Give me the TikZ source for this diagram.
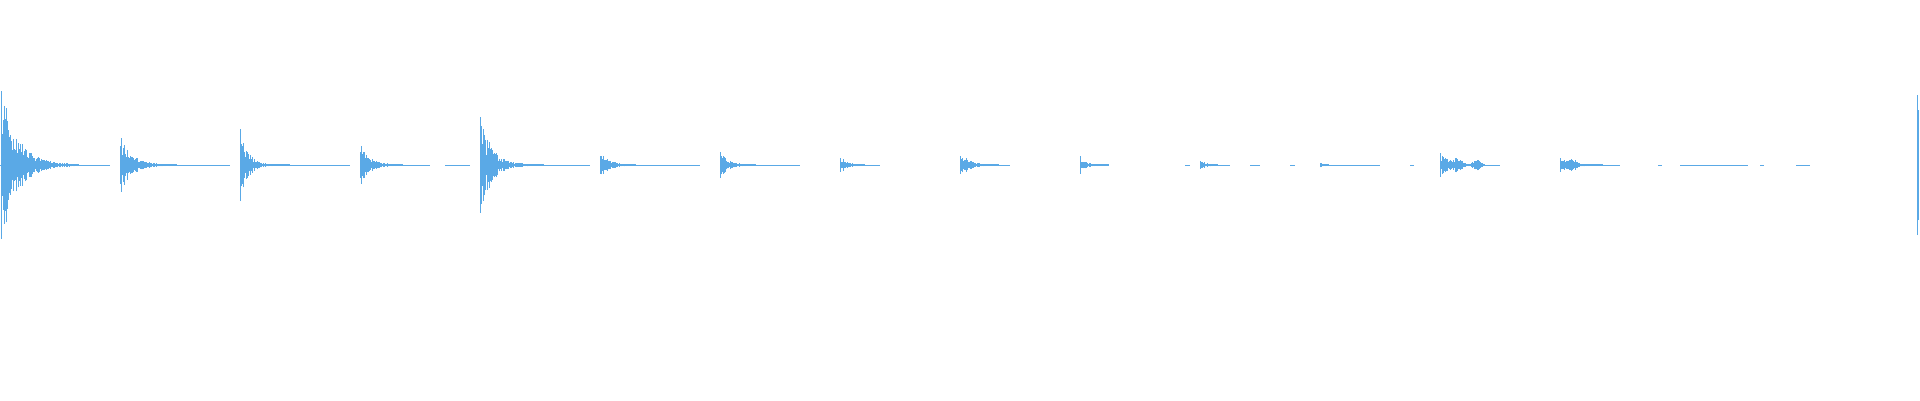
\documentclass[tikz,border=0pt]{standalone}
\definecolor{wave}{HTML}{5AA9E6}
\begin{document}
\begin{tikzpicture}[x=1pt,y=1pt,wv/.style={wave,line width=0.45pt},base/.style={wave,line width=0.4pt}]
\useasboundingbox (0,0) rectangle (1920,400);
\pgfmathsetseed{7}
% baseline segments
\foreach \a/\b in {0/110,120/230,240/350,360/430,445/470,480/590,600/700,720/800,840/880,960/1010,1080/1105,1200/1230,1320/1380,1440/1500,1560/1620,1680/1748,1800/1810}{
  \draw[base] (\a,235) -- (\b,235);}
\foreach \a/\b in {1185/1190,1250/1260,1290/1295,1410/1414,1658/1662,1760/1764,1796/1800}{
  \draw[base] (\a,235) -- (\b,235);}
% bursts: x / amplitude / decay / count
\foreach \x/\A/\t/\n in {1/80/22/110,120/30/16/80,240/40/10/70,360/23/12/60,480/55/15/90,600/18/10/50,720/15/10/50,840/8/10/35,960/15/10/55,1080/8/8/40,1200/4/8/25,1320/2/6/12,1440/12/14/60,1560/8/14/60}{
  \foreach \k in {0,...,\n}{
    \pgfmathsetmacro\h{\A*exp(-\k/\t)*(0.3+0.7*rnd)+0.7}
    \pgfmathsetmacro\xx{\x+\k*0.7}
    \draw[wv] (\xx,235-\h) -- (\xx,235+\h);
  }}
% secondary swells
\foreach \x/\A in {1450/7,1470/5,1565/6}{
  \foreach \k in {0,...,20}{
    \pgfmathsetmacro\h{\A*sin(\k*9)*(0.4+0.6*rnd)+0.6}
    \pgfmathsetmacro\xx{\x+\k*0.7}
    \draw[wv] (\xx,235-\h) -- (\xx,235+\h);}}
% last spike
\draw[wv] (1917,165) -- (1917,305);
\draw[wv] (1918.5,180) -- (1918.5,290);
\end{tikzpicture}
\end{document}
